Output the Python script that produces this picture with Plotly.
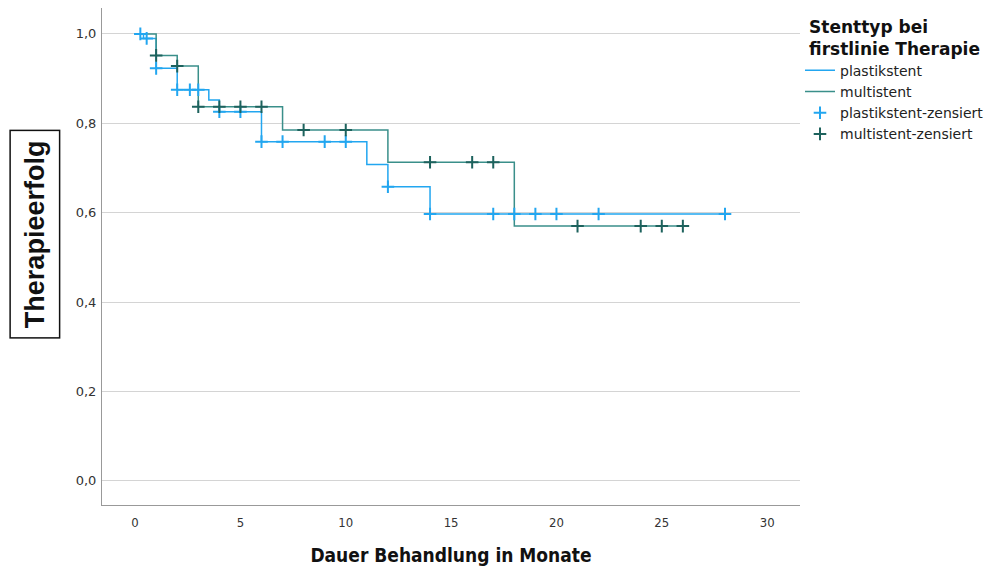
import plotly.graph_objects as go

# Kaplan-Meier step curves
plastik_times = [0, 0.4, 1, 2, 3.5, 4, 6, 11, 12, 14, 28]
plastik_surv = [1.0, 0.99, 0.923, 0.875, 0.852, 0.826, 0.759, 0.708, 0.658, 0.597, 0.597]
multi_times = [0, 1, 2, 3, 7, 12, 18, 26]
multi_surv = [1.0, 0.952, 0.928, 0.837, 0.785, 0.713, 0.570, 0.570]

# censored observations
plastik_cens_t = [0.25, 0.55, 1, 2, 2.6, 3, 4, 5, 6, 7, 9, 10, 12, 14, 17, 18, 19, 20, 22, 28]
plastik_cens_s = [1.0, 0.99, 0.923, 0.875, 0.875, 0.875, 0.826, 0.826, 0.759, 0.759, 0.759, 0.759,
                  0.658, 0.597, 0.597, 0.597, 0.597, 0.597, 0.597, 0.597]
multi_cens_t = [1, 2, 3, 4, 5, 6, 8, 10, 14, 16, 17, 21, 24, 25, 26]
multi_cens_s = [0.952, 0.928, 0.837, 0.837, 0.837, 0.837, 0.785, 0.785, 0.713, 0.713, 0.713,
                0.570, 0.570, 0.570, 0.570]

x_ticks = [0, 5, 10, 15, 20, 25, 30]
y_ticks = [0.0, 0.2, 0.4, 0.6, 0.8, 1.0]

BLUE = "#22a6f0"
TEAL = "#3a8f8a"
TEAL_DARK = "#1d625d"

fig = go.Figure()
fig.add_trace(go.Scatter(x=plastik_times, y=plastik_surv, mode="lines", line_shape="hv",
                         line=dict(color=BLUE, width=1.5), name="plastikstent"))
fig.add_trace(go.Scatter(x=multi_times, y=multi_surv, mode="lines", line_shape="hv",
                         line=dict(color=TEAL, width=1.5), name="multistent"))
fig.add_trace(go.Scatter(x=plastik_cens_t, y=plastik_cens_s, mode="markers",
                         marker=dict(symbol="cross-thin", size=9, line=dict(color=BLUE, width=2)),
                         name="plastikstent-zensiert"))
fig.add_trace(go.Scatter(x=multi_cens_t, y=multi_cens_s, mode="markers",
                         marker=dict(symbol="cross-thin", size=9, line=dict(color=TEAL_DARK, width=2)),
                         name="multistent-zensiert"))

fig.update_layout(
    width=1005, height=566,
    margin=dict(l=102, r=205, t=8, b=61, autoexpand=False),
    plot_bgcolor="white", paper_bgcolor="white",
    separators=",.",
    font=dict(family="DejaVu Sans", size=12, color="#333"),
    legend=dict(
        x=1.0, xanchor="left", y=0.995, yanchor="top",
        title=dict(text="<b>Stenttyp bei<br>firstlinie Therapie</b>", side="top center",
                   font=dict(family="DejaVu Sans", size=17, color="#111")),
        font=dict(family="DejaVu Sans", size=14, color="#222"),
        tracegroupgap=0, itemwidth=30,
    ),
    xaxis=dict(range=[-1.57, 31.56], tickvals=x_ticks, showgrid=False, zeroline=False,
               showline=True, linecolor="#999", linewidth=1, ticks="", ticklabelstandoff=5,
               automargin=False,
               tickfont=dict(family="DejaVu Sans Condensed, DejaVu Sans", size=13, color="#333"),
               title=dict(text="<b>Dauer Behandlung in Monate</b>", standoff=20,
                          font=dict(family="DejaVu Sans Condensed, DejaVu Sans", size=19, color="#111"))),
    yaxis=dict(range=[-0.054, 1.058], tickvals=y_ticks, tickformat=".1f", showgrid=True,
               gridcolor="#d4d4d4", gridwidth=1, zeroline=False,
               showline=True, linecolor="#999", linewidth=1, ticks="", ticklabelstandoff=2,
               automargin=False,
               tickfont=dict(family="DejaVu Sans", size=13, color="#333")),
)

fig.add_annotation(text="<b>Therapieerfolg</b>", textangle=-90, xref="paper", yref="paper",
                   x=-0.0967, y=0.545, xanchor="center", yanchor="middle", showarrow=False,
                   font=dict(family="Liberation Sans", size=27, color="#111"),
                   bordercolor="#111", borderwidth=1.5, borderpad=9, bgcolor="white")

fig.write_html("out.html", config={"displayModeBar": False})

# remove default body margin so the figure sits at the page origin
with open("out.html", "r", encoding="utf-8") as f:
    html = f.read()
html = html.replace("<body>", '<body style="margin:0;padding:0;">', 1)
with open("out.html", "w", encoding="utf-8") as f:
    f.write(html)
